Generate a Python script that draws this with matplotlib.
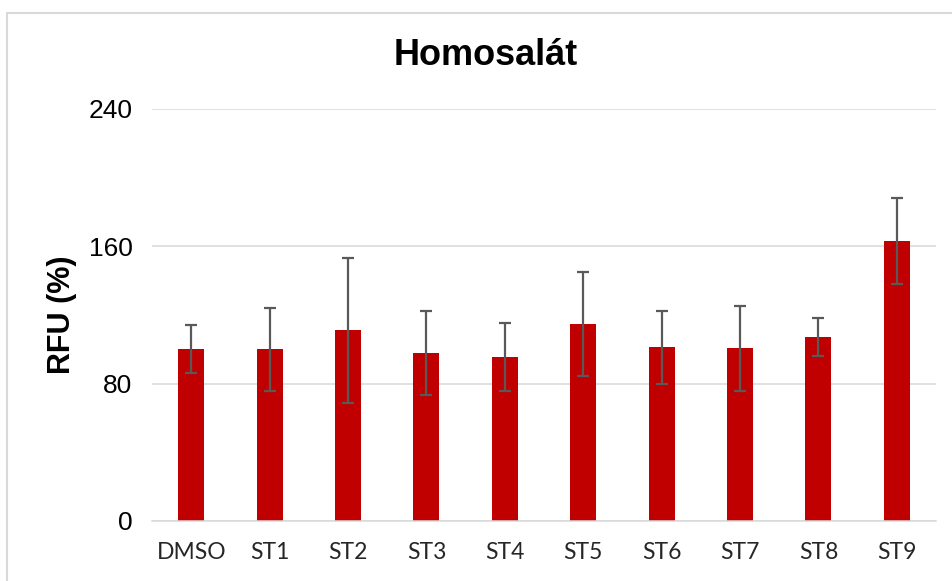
import matplotlib
matplotlib.use("Agg")
import matplotlib.pyplot as plt
from matplotlib.patches import Rectangle

categories = ["DMSO", "ST1", "ST2", "ST3", "ST4", "ST5", "ST6", "ST7", "ST8", "ST9"]
rfu_mean = [100, 100, 111, 97.6, 95.5, 114.6, 101.3, 100.5, 107.2, 162.9]
rfu_err = [14, 24, 42.3, 24.5, 20, 30.3, 21.3, 24.5, 11.3, 25]
y_ticks = [0, 80, 160, 240]

BAR_COLOR = "#C00000"
ERR_COLOR = "#595959"
GRID_COLOR = "#D9D9D9"

fig = plt.figure(figsize=(9.53, 5.81), dpi=100)
ax = fig.add_axes([0.1595, 0.1033, 0.8227, 0.7091])

x = list(range(len(categories)))
ax.bar(x, rfu_mean, width=0.33, color=BAR_COLOR, zorder=2)
ax.errorbar(x, rfu_mean, yerr=rfu_err, fmt="none", ecolor=ERR_COLOR,
            elinewidth=1.6, capsize=4.3, capthick=1.6, zorder=3)

ax.set_xlim(-0.5, len(categories) - 0.5)
ax.set_ylim(0, 240)
ax.set_yticks(y_ticks)
ax.set_xticks(x)
ax.set_xticklabels(categories, family="Lato", fontsize=16.5, color="#262626")
ax.set_yticklabels([str(t) for t in y_ticks], family="Liberation Sans", fontsize=19)
ax.tick_params(axis="y", length=0, pad=14)
ax.tick_params(axis="x", length=0, pad=15)

ax.grid(axis="y", color=GRID_COLOR, linewidth=1.1, zorder=0)
ax.set_axisbelow(True)
for side in ("top", "right", "left"):
    ax.spines[side].set_visible(False)
ax.spines["bottom"].set_color(GRID_COLOR)
ax.spines["bottom"].set_linewidth(1.1)

fig.text(0.51, 0.905, "Homosalát", ha="center", va="center",
         family="Liberation Sans", fontsize=26, fontweight="bold")
fig.text(62 / 953, 0.458, "RFU (%)", ha="center", va="center", rotation=90,
         family="Liberation Sans", fontsize=22, fontweight="bold")

# chart frame, cropped at right and bottom
fig.patches.append(Rectangle((7 / 953, -0.1), 1.1, 1.1 - 13 / 581,
                             transform=fig.transFigure, fill=False,
                             edgecolor=GRID_COLOR, linewidth=1.5))

fig.savefig("out.png", dpi=100)
